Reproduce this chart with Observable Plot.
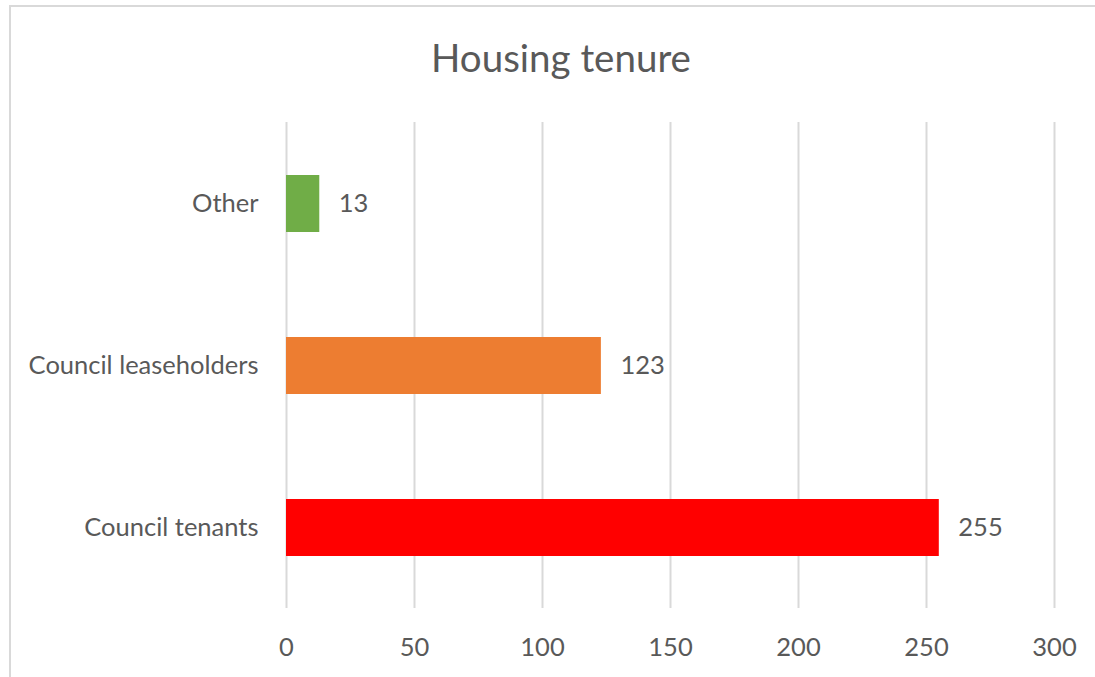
<!DOCTYPE html>
<html>
<head>
<meta charset="utf-8">
<script src="https://cdn.jsdelivr.net/npm/d3@7"></script>
<script src="https://cdn.jsdelivr.net/npm/@observablehq/plot@0.6"></script>
<style>
  html, body { margin: 0; padding: 0; background: #fff; overflow: hidden; width: 1095px; height: 677px; }
  #frame { position: absolute; left: 9px; top: 5px; width: 2000px; height: 2000px; border: 2px solid #d9d9d9; box-sizing: border-box; }
  #title { position: absolute; left: 0; top: 0; width: 1122px; text-align: center; font-family: Lato, sans-serif; font-size: 38.5px; color: #595959; line-height: 1; padding-top: 38px; }
  #chart { position: absolute; left: 0; top: 0; }
</style>
</head>
<body>
<div id="frame"></div>
<div id="chart"></div>
<div id="title">Housing tenure</div>
<script>
const categories = ["Other", "Council leaseholders", "Council tenants"];
const values = [13, 123, 255];
const colors = ["#70AD47", "#ED7D31", "#FF0000"];
const xTicks = [0, 50, 100, 150, 200, 250, 300];

const data = categories.map((c, i) => ({category: c, value: values[i]}));

const chart = Plot.plot({
  width: 1095,
  height: 677,
  marginLeft: 286,
  marginRight: 41,
  marginTop: 122,
  marginBottom: 69,
  style: {fontFamily: "Lato, sans-serif", fontSize: "25.5px", color: "#595959", background: "transparent"},
  x: {domain: [0, 300], ticks: xTicks, label: null, tickSize: 0, tickPadding: 29},
  y: {domain: categories, label: null, tickSize: 0, tickPadding: 28, paddingInner: 0.65, paddingOuter: 0.325},
  color: {domain: categories, range: colors},
  marks: [
    Plot.ruleX(xTicks, {stroke: "#d9d9d9", strokeWidth: 2}),
    Plot.barX(data, {x: "value", y: "category", fill: "category"}),
    Plot.text(data, {x: "value", y: "category", text: d => String(d.value), dx: 19, textAnchor: "start", fill: "#595959", fontSize: 25.5}),
    Plot.axisX({ticks: xTicks, tickSize: 0, tickPadding: 29, fontSize: 25.5}),
    Plot.axisY({tickSize: 0, tickPadding: 28, fontSize: 25.5})
  ]
});
document.getElementById("chart").appendChild(chart);
</script>
</body>
</html>
